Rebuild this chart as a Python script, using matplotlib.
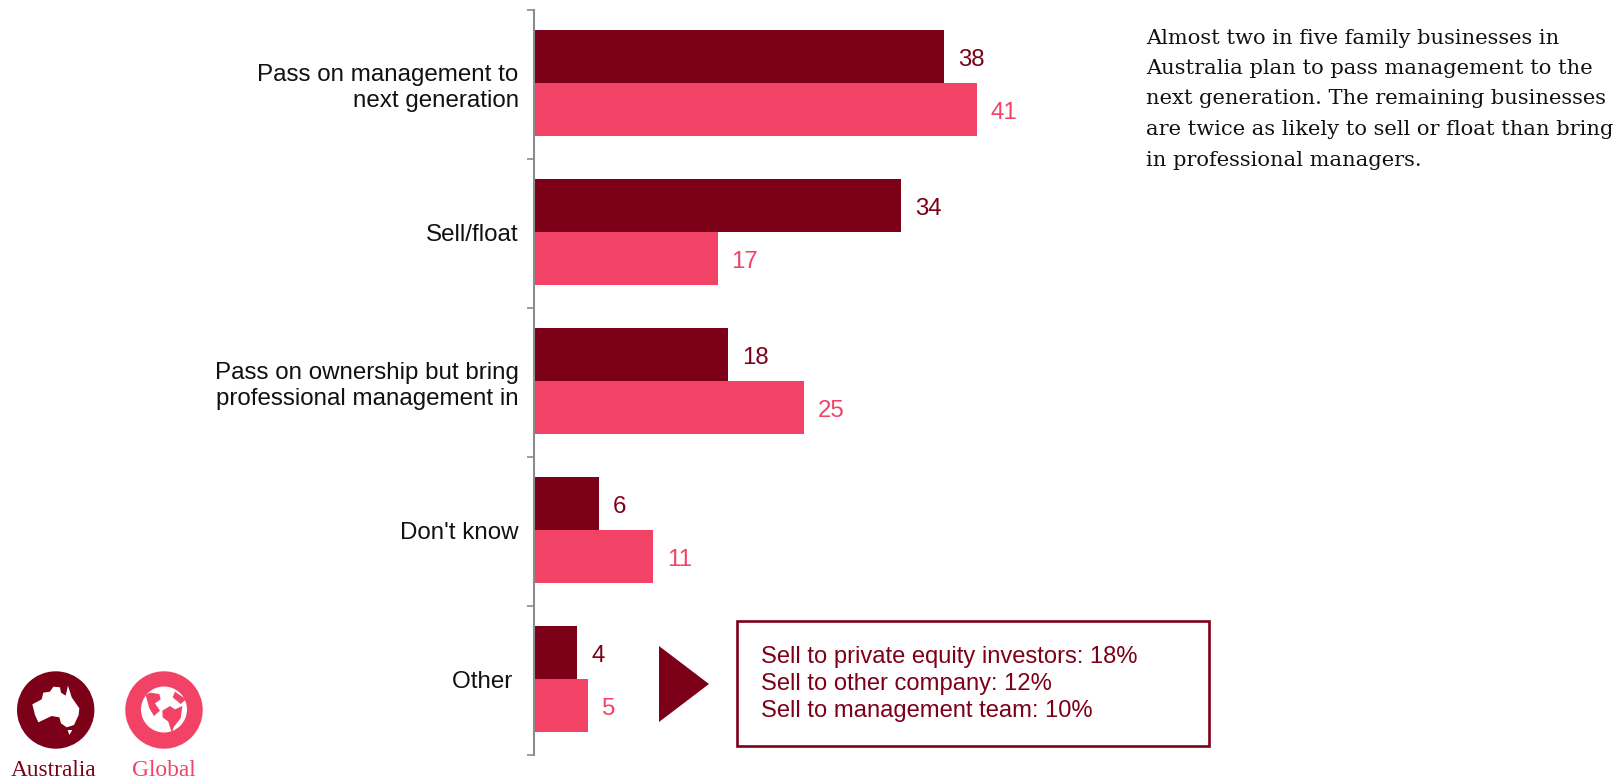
import matplotlib
matplotlib.use("Agg")
import matplotlib.pyplot as plt
from matplotlib.patches import Circle, Polygon, Rectangle

categories = ["Pass on management to\nnext generation", "Sell/float",
              "Pass on ownership but bring\nprofessional management in", "Don't know", "Other "]
australia = [38, 34, 18, 6, 4]
global_values = [41, 17, 25, 11, 5]
callout_lines = ["Sell to private equity investors: 18%", "Sell to other company: 12%",
                 "Sell to management team: 10%"]
commentary = ["Almost two in five family businesses in",
              "Australia plan to pass management to the",
              "next generation. The remaining businesses",
              "are twice as likely to sell or float than bring",
              "in professional managers."]

DARK = "#7D0019"
PINK = "#F24266"
W, H = 1621, 779
SANS = "Liberation Sans"
SERIF = "Liberation Serif"
BODY_SERIF = "DejaVu Serif"

fig = plt.figure(figsize=(W / 100, H / 100), dpi=100, facecolor="white")

# Bar panel, positioned in pixel terms
left, right, top, bottom = 534, 1200, 10, 755
ax = fig.add_axes([left / W, 1 - bottom / H, (right - left) / W, (bottom - top) / H])
ax.set_xlim(0, (right - left) / 10.8)
ax.set_ylim(5, 0)
ax.patch.set_alpha(0)
for side in ("top", "right", "bottom"):
    ax.spines[side].set_visible(False)
ax.spines["left"].set_color("#8C8C8C")
ax.spines["left"].set_linewidth(1.5)
ax.set_xticks([])
ax.set_yticks(range(6))
ax.set_yticklabels([])
ax.tick_params(axis="y", which="major", length=5, width=1.2, color="#8C8C8C")
ax.set_yticks([i + 0.49 for i in range(5)], minor=True)
ax.set_yticklabels(categories, minor=True, fontfamily=SANS, fontsize=17.4, color="#111111",
                   linespacing=1.25)
ax.tick_params(axis="y", which="minor", length=0, pad=11)

bar_h = 53 / 149
for i, (a, g) in enumerate(zip(australia, global_values)):
    ya, yg = i + 0.49 - bar_h / 2, i + 0.49 + bar_h / 2
    ax.barh(ya, a, height=bar_h, color=DARK)
    ax.barh(yg, g, height=bar_h, color=PINK)
    ax.annotate(str(a), (a, ya), xytext=(10, -2.5), textcoords="offset points", va="center",
                color=DARK, fontfamily=SANS, fontsize=17.3)
    ax.annotate(str(g), (g, yg), xytext=(10, -2.5), textcoords="offset points", va="center",
                color=PINK, fontfamily=SANS, fontsize=17.3)

# Overlay in pixel coordinates for the callout, commentary and legend badges
ov = fig.add_axes([0, 0, 1, 1])
ov.set_xlim(0, W)
ov.set_ylim(H, 0)
ov.axis("off")
ov.patch.set_alpha(0)

ov.add_patch(Polygon([(659, 646), (709, 684), (659, 722)], closed=True, fc=DARK, ec="none"))
ov.add_patch(Rectangle((737, 621), 472, 125, fc="white", ec=DARK, lw=1.9))
for y, line in zip((657, 684, 711), callout_lines):
    ov.text(761, y, line, color=DARK, fontfamily=SANS, fontsize=17.1, va="center")

for y, line in zip((38, 68, 98, 129, 160), commentary):
    ov.text(1146, y, line, color="#111111", fontfamily=BODY_SERIF, fontsize=15.15, va="center")

# Legend badges, outlines given on a 3x grid around the badge row
def badge_xy(points):
    return [(x / 3, 640 + y / 3) for x, y in points]

ov.add_patch(Circle((55.7, 710), 38.7, fc=DARK, ec="none"))
ov.add_patch(Polygon(badge_xy([(97, 193), (125, 178), (130, 158), (150, 155), (160, 140), (180, 142),
                               (183, 158), (197, 167), (204, 137), (215, 172), (238, 205), (236, 225),
                               (222, 255), (200, 262), (183, 250), (178, 232), (155, 228), (115, 247),
                               (105, 225)]), fc="white", ec="none"))
ov.add_patch(Polygon(badge_xy([(203, 270), (217, 270), (208, 285)]), fc="white", ec="none"))

ov.add_patch(Circle((164, 710), 38.7, fc=PINK, ec="none"))
ov.add_patch(Circle((164, 709.5), 23, fc="white", ec="none"))
for shape in ([(437, 165), (450, 158), (478, 162), (482, 178), (465, 190), (480, 212), (462, 228),
               (448, 205)],
              [(487, 212), (510, 198), (525, 208), (547, 198), (542, 235), (522, 260), (515, 278),
               (505, 245), (488, 232)],
              [(525, 155), (558, 178), (542, 192), (518, 172)]):
    ov.add_patch(Polygon(badge_xy(shape), fc=PINK, ec="none"))

ov.text(54, 770, "Australia", color=DARK, fontfamily=SERIF, fontsize=16.8, ha="center", va="center")
ov.text(164, 770, "Global", color=PINK, fontfamily=SERIF, fontsize=16.8, ha="center", va="center")

fig.savefig("out.png", dpi=100)
